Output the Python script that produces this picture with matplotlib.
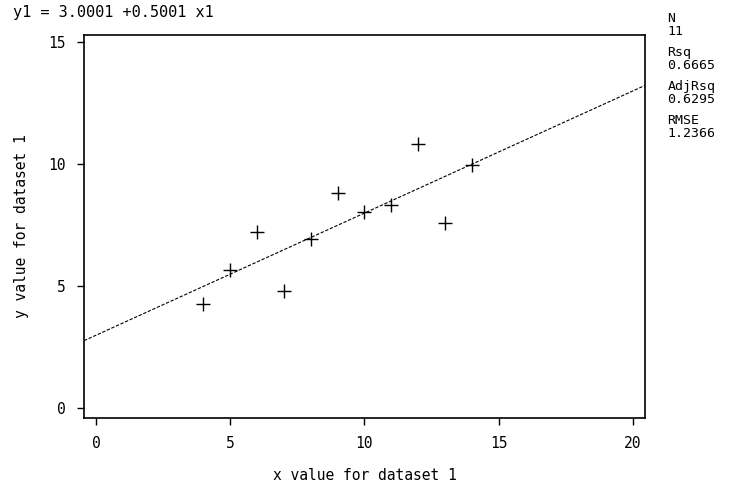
import matplotlib
matplotlib.use("Agg")
import matplotlib.pyplot as plt
import numpy as np

# Anscombe dataset 1
x1 = [10, 8, 13, 9, 11, 14, 6, 4, 12, 7, 5]
y1 = [8.04, 6.95, 7.58, 8.81, 8.33, 9.96, 7.24, 4.26, 10.84, 4.82, 5.68]
intercept = 3.0001
slope = 0.5001
stat_names = ["N", "Rsq", "AdjRsq", "RMSE"]
stat_values = ["11", "0.6665", "0.6295", "1.2366"]
x_ticks = [0, 5, 10, 15, 20]
y_ticks = [0, 5, 10, 15]

plt.rcParams["font.family"] = "DejaVu Sans Mono"

fig = plt.figure(figsize=(7.31, 4.99), dpi=100)
ax = fig.add_axes([0.115, 0.162, 0.767, 0.768])

xlim = (-0.45, 20.45)
ylim = (-0.4, 15.3)
xs = np.array(xlim)
ax.plot(xs, intercept + slope * xs, color="black", lw=0.8, ls=(0, (3, 1.5)))
ax.scatter(x1, y1, marker="+", s=110, color="black", linewidths=1.0, zorder=3)

ax.set_xlim(*xlim)
ax.set_ylim(*ylim)
ax.set_xticks(x_ticks)
ax.set_yticks(y_ticks)
ax.tick_params(direction="out", length=5, width=1, labelsize=10.5, pad=8, color="black")
for s in ax.spines.values():
    s.set_linewidth(1.2)

ax.set_xlabel("x value for dataset 1", fontsize=10.5, labelpad=12)
ax.set_ylabel("y value for dataset 1", fontsize=10.5, labelpad=14)

fig.text(0.018, 0.975, f"y1 = {intercept:.4f} +{slope:.4f} x1", fontsize=11, va="center", ha="left")

y = 0.963
for name, val in zip(stat_names, stat_values):
    fig.text(0.913, y, name, fontsize=9.5, va="center", ha="left")
    fig.text(0.913, y - 0.027, val, fontsize=9.5, va="center", ha="left")
    y -= 0.068

fig.savefig("out.png", dpi=100)
plt.close(fig)
